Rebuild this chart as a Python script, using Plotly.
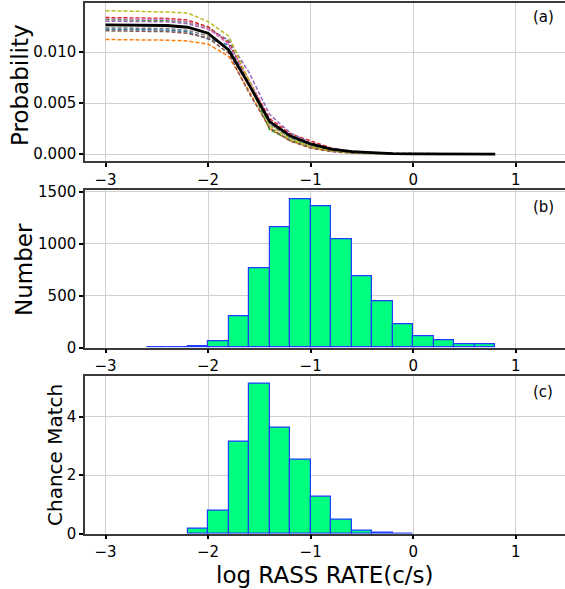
import plotly.graph_objects as go

# ---------------- data ----------------
# panel (a): probability curves vs log rate
x_prob = [-3.0, -2.8, -2.6, -2.4, -2.2, -2.0, -1.8, -1.6, -1.4, -1.2, -1.0,
          -0.8, -0.6, -0.4, -0.2, 0.0, 0.2, 0.4, 0.6, 0.8]

prob_blue = [0.01225, 0.01224, 0.01222, 0.01218, 0.01200, 0.01130, 0.01070, 0.00700, 0.00300, 0.00160, 0.00085,
             0.00040, 0.00018, 0.00008, 0.00004, 0.00002, 0.00001]
prob_orange = [0.01125, 0.01124, 0.01122, 0.01118, 0.01110, 0.01080, 0.00960, 0.00620, 0.00250, 0.00130, 0.00065,
               0.00030, 0.00013, 0.00006, 0.00003, 0.00001, 0.0]
prob_green = [0.01320, 0.01319, 0.01317, 0.01312, 0.01295, 0.01240, 0.01110, 0.00700, 0.00240, 0.00140, 0.00075,
              0.00035, 0.00015, 0.00007, 0.00003, 0.00001, 0.0]
prob_red = [0.01340, 0.01339, 0.01337, 0.01332, 0.01315, 0.01250, 0.01090, 0.00720, 0.00350, 0.00200, 0.00130,
            0.00060, 0.00028, 0.00012, 0.00005, 0.00002, 0.00001]
prob_purple = [0.01305, 0.01304, 0.01302, 0.01298, 0.01280, 0.01225, 0.01120, 0.00800, 0.00390, 0.00210, 0.00110,
               0.00055, 0.00030, 0.00016, 0.00010, 0.00008, 0.00006, 0.00003]
prob_brown = [0.01210, 0.01209, 0.01207, 0.01202, 0.01185, 0.01140, 0.00990, 0.00600, 0.00260, 0.00130, 0.00060,
              0.00025, 0.00010, 0.00004, 0.00002, 0.00001, 0.0]
prob_pink = [0.01330, 0.01329, 0.01327, 0.01322, 0.01300, 0.01230, 0.01080, 0.00730, 0.00330, 0.00180, 0.00095,
             0.00045, 0.00020, 0.00009, 0.00004, 0.00002, 0.00001]
prob_gray = [0.01240, 0.01239, 0.01237, 0.01232, 0.01215, 0.01160, 0.01030, 0.00680, 0.00300, 0.00160, 0.00080,
             0.00038, 0.00016, 0.00007, 0.00003, 0.00001, 0.0]
prob_olive = [0.01408, 0.01405, 0.01400, 0.01395, 0.01385, 0.01300, 0.01160, 0.00720, 0.00280, 0.00150, 0.00075,
              0.00035, 0.00015, 0.00006, 0.00003, 0.00001, 0.0]
prob_mean = [0.01268, 0.01267, 0.01266, 0.01262, 0.01245, 0.01186, 0.01022, 0.00680, 0.00320, 0.00180, 0.00100,
             0.00050, 0.00025, 0.00012, 0.00006, 0.00003, 0.00001, 0.0, 0.0, 0.0]

dashed_series = [
    ("#1f77b4", prob_blue), ("#ff7f0e", prob_orange), ("#2ca02c", prob_green),
    ("#d62728", prob_red), ("#9467bd", prob_purple), ("#8c564b", prob_brown),
    ("#e377c2", prob_pink), ("#7f7f7f", prob_gray), ("#bcbd22", prob_olive),
]

# histogram bins (width 0.2), given by bin centres
bin_centers = [-2.9, -2.7, -2.5, -2.3, -2.1, -1.9, -1.7, -1.5, -1.3, -1.1, -0.9,
               -0.7, -0.5, -0.3, -0.1, 0.1, 0.3, 0.5, 0.7, 0.9]
# panel (b): number of sources
number_counts = [0, 0, 1, 2, 13, 60, 298, 758, 1154, 1430, 1363,
                 1040, 685, 447, 222, 105, 70, 35, 28, 0]
# panel (c): chance matches
chance_counts = [0, 0, 0, 0, 0.16, 0.77, 3.13, 5.13, 3.62, 2.54, 1.25,
                 0.47, 0.11, 0.04, 0.01, 0, 0, 0, 0, 0]

x_ticks = [-3, -2, -1, 0, 1]
prob_ticks = [0.0, 0.005, 0.010]
number_ticks = [0, 500, 1000, 1500]
chance_ticks = [0, 2, 4]

# ---------------- figure ----------------
W, H = 565, 589
fig = go.Figure()

for color, vals in dashed_series:
    fig.add_trace(go.Scatter(x=x_prob[:len(vals)], y=vals, mode="lines",
                             line=dict(color=color, width=1.5, dash="4px,2px"),
                             xaxis="x", yaxis="y", showlegend=False, hoverinfo="skip"))
fig.add_trace(go.Scatter(x=x_prob, y=prob_mean, mode="lines",
                         line=dict(color="black", width=2.8),
                         xaxis="x", yaxis="y", showlegend=False))


def nonzero(xs, ys):
    pairs = [(a, b) for a, b in zip(xs, ys) if b > 0]
    return [p[0] for p in pairs], [p[1] for p in pairs]


bar_style = dict(width=0.2, marker=dict(color="#00ff7f", line=dict(color="#1f3cff", width=1.2)),
                 showlegend=False)
bx, by = nonzero(bin_centers, number_counts)
fig.add_trace(go.Bar(x=bx, y=by, xaxis="x2", yaxis="y2", **bar_style))
cx, cy = nonzero(bin_centers, chance_counts)
fig.add_trace(go.Bar(x=cx, y=cy, xaxis="x3", yaxis="y3", **bar_style))

x_left = 85 / W


def ydom(top_px, bot_px):
    return [1 - bot_px / H, 1 - top_px / H]


axis_common = dict(showline=True, linecolor="#3a3a3a", linewidth=1.5,
                   showgrid=True, gridcolor="#d0d0d0", gridwidth=1,
                   ticks="outside", ticklen=4, tickwidth=1.5, tickcolor="black",
                   tickfont=dict(family="DejaVu Sans", size=15, color="black"),
                   zeroline=False, automargin=False)

xcommon = dict(axis_common, range=[-3.2, 1.48], tickvals=x_ticks, mirror=True,
               domain=[x_left, 1.0])

fig.update_layout(
    width=W, height=H,
    margin=dict(l=0, r=0, t=0, b=0, pad=0, autoexpand=False),
    paper_bgcolor="white", plot_bgcolor="white",
    bargap=0,
    font=dict(family="DejaVu Sans", color="black"),
    xaxis=dict(xcommon, anchor="y"),
    xaxis2=dict(xcommon, anchor="y2"),
    xaxis3=dict(xcommon, anchor="y3"),
    yaxis=dict(axis_common, domain=ydom(3.3, 161.3), range=[-0.0007, 0.0148],
               tickvals=prob_ticks, tickformat=".3f", anchor="x"),
    yaxis2=dict(axis_common, domain=ydom(190.3, 347.7), range=[0, 1512],
                tickvals=number_ticks, anchor="x2"),
    yaxis3=dict(axis_common, domain=ydom(375.7, 533.7), range=[0, 5.4],
                tickvals=chance_ticks, anchor="x3"),
)

annots = [
    dict(text="Probability", x=20 / W, y=1 - 85 / H, textangle=-90, size=23),
    dict(text="Number", x=24 / W, y=1 - 270 / H, textangle=-90, size=23),
    dict(text="Chance Match", x=55 / W, y=1 - 455 / H, textangle=-90, size=20),
    dict(text="log RASS RATE(c/s)", x=325 / W, y=1 - 575 / H, textangle=0, size=23),
    dict(text="(a)", x=543 / W, y=1 - 17 / H, textangle=0, size=15),
    dict(text="(b)", x=543 / W, y=1 - 207 / H, textangle=0, size=15),
    dict(text="(c)", x=543 / W, y=1 - 392 / H, textangle=0, size=15),
]
for a in annots:
    fig.add_annotation(text=a["text"], x=a["x"], y=a["y"], xref="paper", yref="paper",
                       xanchor="center", yanchor="middle", textangle=a["textangle"],
                       showarrow=False,
                       font=dict(family="DejaVu Sans", size=a["size"], color="black"))

fig.write_html("out.html")
